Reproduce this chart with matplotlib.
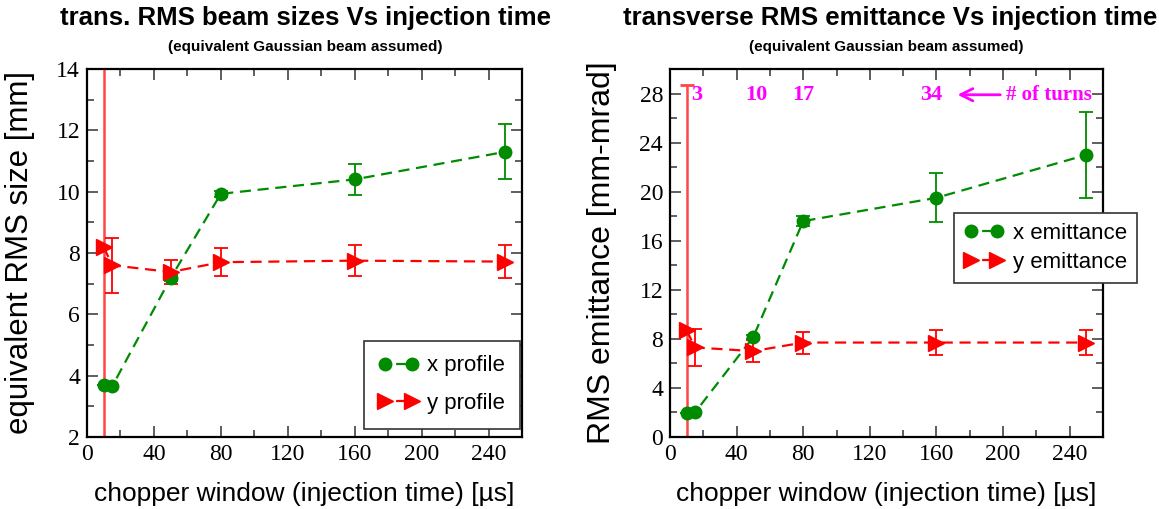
import matplotlib
matplotlib.use("Agg")
import matplotlib.pyplot as plt
from matplotlib.lines import Line2D
from matplotlib.ticker import MultipleLocator

# chopper window (injection time) [us]
t = [10, 15, 50, 80, 160, 250]

# left: beam sizes [mm]
x_size = [3.7, 3.65, 7.18, 9.93, 10.4, 11.3]
x_size_err = [0.0, 0.0, 0.1, 0.1, 0.5, 0.9]
y_size = [8.2, 7.6, 7.38, 7.7, 7.75, 7.72]
y_size_err = [0.0, 0.9, 0.4, 0.45, 0.5, 0.55]

# right: emittances [mm-mrad]
x_emit = [1.95, 2.0, 8.15, 17.6, 19.5, 23.0]
x_emit_err = [0.0, 0.0, 0.2, 0.4, 2.0, 3.5]
y_emit = [8.7, 7.3, 7.0, 7.7, 7.7, 7.7]
y_emit_err = [0.0, 1.5, 0.9, 0.9, 1.0, 1.0]

turns_x = [16, 52, 80, 157]
turns_lbl = ["3", "10", "17", "34"]

GREEN = "#008b00"
RED = "#ff0000"
VLINE = "#ff4545"
MAG = "#ff00ff"

serif = "Liberation Serif"
sans = "Liberation Sans"

fig = plt.figure(figsize=(11.59, 5.09), dpi=100)
ax1 = fig.add_axes([87 / 1159, 1 - 437 / 509, 435 / 1159, 368 / 509])
ax2 = fig.add_axes([670 / 1159, 1 - 437 / 509, 433 / 1159, 368 / 509])

DASH = (0, (5, 3))
LEG_DASH = (3.0, (5, 3))


def series(ax, y, err, color, marker, ms):
    ax.errorbar(t, y, yerr=err, color=color, ecolor=color, elinewidth=1.3,
                capsize=5, capthick=1.3, marker=marker, ms=ms, mec=color,
                mfc=color, ls=DASH, lw=1.6, zorder=3)


def style(ax, ylo, yhi, ymaj, ymin):
    ax.set_xlim(0, 260)
    ax.set_ylim(ylo, yhi)
    ax.xaxis.set_major_locator(MultipleLocator(40))
    ax.xaxis.set_minor_locator(MultipleLocator(20))
    ax.yaxis.set_major_locator(MultipleLocator(ymaj))
    ax.yaxis.set_minor_locator(MultipleLocator(ymin))
    ax.tick_params(which="both", direction="in", top=True, right=True,
                   width=1.1, color="#333333")
    ax.tick_params(which="major", length=8, labelsize=17, pad=5)
    ax.tick_params(which="minor", length=5)
    for lab in ax.get_xticklabels() + ax.get_yticklabels():
        lab.set_family(serif)
    for sp in ax.spines.values():
        sp.set_linewidth(1.6)
    ax.set_xlabel("chopper window (injection time) [µs]", family=sans,
                  fontsize=19, labelpad=12)


def legend(ax, labels, anchor, spacing, bpad):
    h = [Line2D([], [], color=GREEN, marker="o", ms=9, ls=LEG_DASH, lw=1.6),
         Line2D([], [], color=RED, marker=">", ms=11, ls=LEG_DASH, lw=1.6)]
    leg = ax.legend(h, labels, loc="upper left", bbox_to_anchor=anchor,
                    prop={"family": sans, "size": 16}, fancybox=False,
                    edgecolor="#333333", framealpha=1, numpoints=2,
                    handlelength=1.8, borderpad=bpad, labelspacing=spacing,
                    handletextpad=0.4, borderaxespad=0)
    leg.get_frame().set_linewidth(1.2)


# left panel
ax1.axvline(10, color=VLINE, lw=1.8, zorder=2)
series(ax1, x_size, x_size_err, GREEN, "o", 9)
series(ax1, y_size, y_size_err, RED, ">", 11)
style(ax1, 2, 14, 2, 1)
ax1.set_ylabel("equivalent RMS size [mm]", family=sans, fontsize=22.5)
ax1.yaxis.set_label_coords(-0.12, 0.5)
legend(ax1, ["x profile", "y profile"], (277 / 435, 96 / 368), 0.75, 0.65)
fig.text(305 / 1159, 1 - 18 / 509, "trans. RMS beam sizes Vs injection time",
         ha="center", va="center", family=sans, fontweight="bold", fontsize=18.5)
fig.text(305 / 1159, 1 - 47 / 509, "(equivalent Gaussian beam assumed)",
         ha="center", va="center", family=sans, fontweight="bold", fontsize=11)

# right panel
ax2.vlines(10, 0, 28.7, color=VLINE, lw=1.8, zorder=2)
ax2.plot([10], [28.7], marker="_", ms=10, mew=2, color=VLINE, zorder=2)
series(ax2, x_emit, x_emit_err, GREEN, "o", 9)
series(ax2, y_emit, y_emit_err, RED, ">", 11)
style(ax2, 0, 30, 4, 2)
ax2.set_ylabel("RMS emittance [mm-mrad]", family=sans, fontsize=23)
ax2.yaxis.set_label_coords(-0.122, 0.5)
legend(ax2, ["x emittance", "y emittance"], (284 / 433, 224 / 368), 0.35, 0.45)
fig.text(890 / 1159, 1 - 18 / 509, "transverse RMS emittance Vs injection time",
         ha="center", va="center", family=sans, fontweight="bold", fontsize=18.5)
fig.text(886 / 1159, 1 - 47 / 509, "(equivalent Gaussian beam assumed)",
         ha="center", va="center", family=sans, fontweight="bold", fontsize=11)

for xv, s in zip(turns_x, turns_lbl):
    ax2.text(xv, 27.9, s, color=MAG, family=serif, fontweight="bold",
             fontsize=16, ha="center", va="center")
ax2.annotate("", xy=(171, 27.9), xytext=(200, 27.9),
             arrowprops=dict(arrowstyle="->", color=MAG, lw=2,
                             mutation_scale=22))
ax2.text(202, 27.9, "# of turns", color=MAG, family=serif, fontweight="bold",
         fontsize=15, ha="left", va="center")

fig.savefig("out.png", dpi=100)
